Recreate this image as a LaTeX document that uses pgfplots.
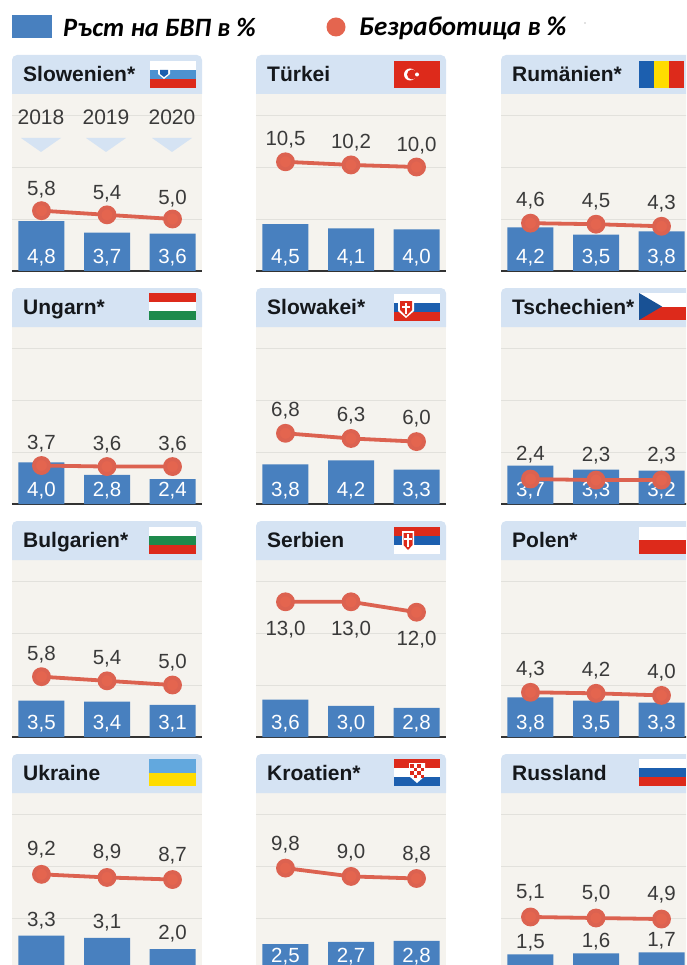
\documentclass[border=0pt]{standalone}
\usepackage{pgfplots}
\pgfplotsset{compat=1.18}
\usepackage{fontspec}
\setmainfont{Liberation Sans}
\newfontfamily\legfont{Carlito}
\definecolor{bg}{HTML}{F5F3EE}
\definecolor{hdr}{HTML}{D5E3F3}
\definecolor{gridc}{HTML}{E2E1DC}
\definecolor{barc}{HTML}{4880BF}
\definecolor{linec}{HTML}{DC6250}
\definecolor{dotc}{HTML}{E4654F}
\definecolor{txt}{HTML}{3A3A3A}
\definecolor{ttl}{HTML}{15181C}
\definecolor{fred}{HTML}{DD2A1B}
\definecolor{fblue}{HTML}{1C5FAF}
\definecolor{fgreen}{HTML}{1E8A4C}
\definecolor{fyellow}{HTML}{FFDC00}
\definecolor{fsky}{HTML}{62A8DE}
\newcommand\numfont{\fontsize{20.5}{24}\selectfont}
\pgfplotsset{numlabel/.style={
  point meta=explicit, draw=none, mark=none,
  nodes near coords={\pgfmathprintnumber[/pgf/number format/assume math mode=true,/pgf/number format/use comma,/pgf/number format/fixed,/pgf/number format/fixed zerofill,/pgf/number format/precision=1]{\pgfplotspointmeta}},
}}
% args: left, baseline, title, bars(3), unemployment(3)
\def\uoff{24}\def\bary#1{1.45}\def\bshift{0}\def\bcol{white}
\newcommand\panel[9]{%
  \begin{axis}[
    at={(#1pt,-#2pt)}, anchor=south west, scale only axis, width=190pt, height=177pt,
    xmin=-0.45, xmax=2.45, ymin=0, ymax=17.02, clip=false,
    axis lines=left, x axis line style={draw=black!80,line width=1.1pt,-},
    y axis line style={draw=none},
    xtick=\empty, ytick={5,10,15}, yticklabels={}, ymajorgrids,
    major tick length=0pt, grid style={gridc,line width=0.8pt},
    axis background/.style={fill=bg},
  ]
  \addplot[ybar, bar shift=0pt, bar width=46pt, fill=barc, draw=none] coordinates {(0,#4)(1,#5)(2,#6)};
  \addplot[numlabel, every node near coord/.append style={anchor=center,text height=15pt,text depth=0pt,yshift=\bshift pt,font=\numfont,text=\bcol}]
     coordinates {(0,\bary{#4})[#4] (1,\bary{#5})[#5] (2,\bary{#6})[#6]};
  \addplot[linec, line width=3.8pt, mark=*, mark size=7.5pt, mark options={fill=dotc,draw=none}] coordinates {(0,#7)(1,#8)(2,#9)};
  \addplot[numlabel, every node near coord/.append style={anchor=center,text height=15pt,text depth=0pt,yshift=\uoff pt,font=\numfont,text=txt}]
     coordinates {(0,#7)[#7] (1,#8)[#8] (2,#9)[#9]};
  \end{axis}
  \pgfmathsetmacro\hxr{#1+190}\pgfmathsetmacro\hyt{#2-216}\pgfmathsetmacro\hyb{#2-177}\pgfmathsetmacro\hyc{#2-197}\pgfmathsetmacro\hxt{#1+11}
  \begin{scope}[x=1pt,y=-1pt]
  \fill[hdr] (#1,\hyb) {[rounded corners=5pt] -- (#1,\hyt) -- (\hxr,\hyt)} -- (\hxr,\hyb) -- cycle;
  \node[anchor=west,inner sep=0pt,text height=15.5pt,text depth=0pt,text=ttl,font=\bfseries\fontsize{21}{25}\selectfont] at (\hxt,\hyc) {#3};
  \end{scope}
}
% horizontal tricolour x1 x2 y1 y2 c1 c2 c3
\newcommand\tri[7]{\pgfmathsetmacro\ya{#3+(#4-#3)/3}\pgfmathsetmacro\yb{#3+2*(#4-#3)/3}%
  \fill[#5] (#1,#3) rectangle (#2,\ya);\fill[#6] (#1,\ya) rectangle (#2,\yb);\fill[#7] (#1,\yb) rectangle (#2,#4);}
\begin{document}
\begin{tikzpicture}
\useasboundingbox (0,0) rectangle (686pt,-965pt);
\clip (0,0) rectangle (686pt,-965pt);
% legend
\begin{scope}[x=1pt,y=-1pt]
\fill[barc] (12,15) rectangle (52,38);
\node[anchor=west,inner sep=0pt,text=black,font=\legfont\bfseries\itshape\fontsize{26.5}{30}\selectfont] at (63,27) {Ръст на БВП в \%};
\fill[dotc] (336,27) circle (9.5);
\node[anchor=west,inner sep=0pt,text=black,font=\legfont\bfseries\itshape\fontsize{27}{30}\selectfont] at (359,28) {Безработица в \%};
\fill[black!50] (585,23) circle (0.7);
\end{scope}
% row 1
\def\uoff{22.5}\panel{12}{271}{Slowenien*}{4.8}{3.7}{3.6}{5.8}{5.4}{5.0}
\def\uoff{23.5}\panel{256}{271}{Türkei}{4.5}{4.1}{4.0}{10.5}{10.2}{10.0}
\def\uoff{24}\panel{501}{271}{Rumänien*}{4.2}{3.5}{3.8}{4.6}{4.5}{4.3}
% row 2
\def\uoff{23.5}\panel{12}{504}{Ungarn*}{4.0}{2.8}{2.4}{3.7}{3.6}{3.6}
\def\uoff{24.5}\panel{256}{504}{Slowakei*}{3.8}{4.2}{3.3}{6.8}{6.3}{6.0}
\def\uoff{26.5}\panel{501}{504}{Tschechien*}{3.7}{3.3}{3.2}{2.4}{2.3}{2.3}
% row 3
\def\uoff{24}\panel{12}{737}{Bulgarien*}{3.5}{3.4}{3.1}{5.8}{5.4}{5.0}
\def\uoff{-26}\panel{256}{737}{Serbien}{3.6}{3.0}{2.8}{13.0}{13.0}{12.0}
\def\uoff{24}\panel{501}{737}{Polen*}{3.8}{3.5}{3.3}{4.3}{4.2}{4.0}
% row 4
\def\bary#1{#1}\def\bshift{17}\def\bcol{txt}\def\uoff{26}
\panel{12}{970}{Ukraine}{3.3}{3.1}{2.0}{9.2}{8.9}{8.7}
\def\bary#1{1.45}\def\bshift{0}\def\bcol{white}\def\uoff{25}
\panel{256}{970}{Kroatien*}{2.5}{2.7}{2.8}{9.8}{9.0}{8.8}
\def\bary#1{#1}\def\bshift{13}\def\bcol{txt}\def\uoff{26}
\panel{501}{970}{Russland}{1.5}{1.6}{1.7}{5.1}{5.0}{4.9}
\begin{scope}[x=1pt,y=-1pt]
% years
\foreach \xx/\yy in {41/2018,106/2019,172/2020}{
  \node[text=txt,inner sep=0pt,font=\fontsize{21}{25}\selectfont] at (\xx,117) {\yy};
  \fill[hdr] (\xx-20,138) -- (\xx+20,138) -- (\xx,152) -- cycle;
}
% flags
\tri{150}{196}{61}{88}{white}{fsky!70!fblue}{fred}
\fill[white] (158,68) -- (170,68) -- (170,74) -- (164,79) -- (158,74) -- cycle;
\fill[fblue] (160,70) -- (168,70) -- (168,74) -- (164,77) -- (160,74) -- cycle;
\fill[fred] (394,61) rectangle (440,88);
\fill[white] (410,74.5) circle (6); \fill[fred] (412,74.5) circle (5); \fill[white] (417,74.5) circle (2);
\fill[fblue] (639,61) rectangle (654,88); \fill[fyellow] (654,61) rectangle (669,88); \fill[fred] (669,61) rectangle (684,88);
\tri{149}{196}{293}{320}{fred}{white}{fgreen}
\tri{394}{440}{294}{321}{white}{fblue}{fred}
\fill[white] (398,299) -- (414,299) -- (414,311) -- (406,318) -- (398,311) -- cycle;
\fill[fred] (400,301) -- (412,301) -- (412,310) -- (406,316) -- (400,310) -- cycle;
\fill[white] (405,303) rectangle (407,314); \fill[white] (402,306) rectangle (410,308);
\fill[white] (639,293) rectangle (686,307); \fill[fred] (639,307) rectangle (686,320);
\fill[fblue!85!black] (639,293) -- (662,306.5) -- (639,320) -- cycle;
\tri{149}{196}{527}{554}{white}{fgreen}{fred}
\tri{394}{440}{527}{554}{fred}{fblue}{white}
\fill[white] (402,531) -- (414,531) -- (414,546) -- (408,552) -- (402,546) -- cycle;
\fill[fred] (403.5,533) -- (412.5,533) -- (412.5,545) -- (408,550) -- (403.5,545) -- cycle;
\fill[white] (407,534) rectangle (409,547); \fill[white] (404,538) rectangle (412,540);
\fill[white] (639,527) rectangle (686,540); \fill[fred] (639,540) rectangle (686,554);
\fill[fsky] (149,759) rectangle (196,773); \fill[fyellow] (149,773) rectangle (196,786);
\tri{394}{440}{759}{786}{fred}{white}{fblue}
\fill[white] (409,763) -- (425,763) -- (425,776) -- (417,783) -- (409,776) -- cycle;
\foreach \i/\j in {0/0,2/0,1/1,3/1,0/2,2/2,1/3,3/3}{\fill[fred] (410+3.5*\i,764+3.5*\j) rectangle ++(3.5,3.5);}
\tri{639}{686}{759}{786}{white}{fblue}{fred}
\end{scope}
\end{tikzpicture}
\end{document}
